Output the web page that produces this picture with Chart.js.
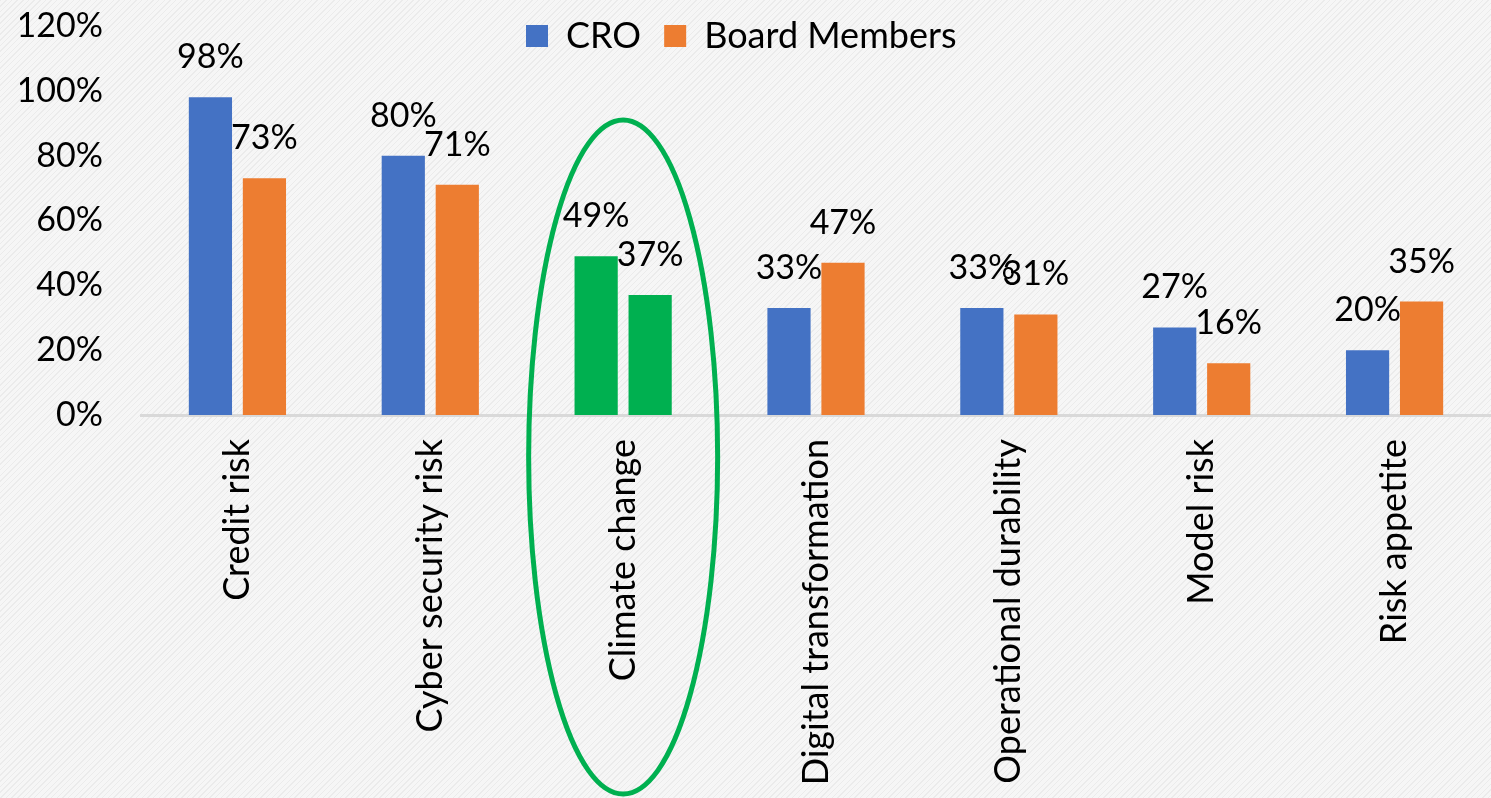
<!DOCTYPE html>
<html><head><meta charset="utf-8">
<script src="https://cdn.jsdelivr.net/npm/chart.js@4.4.1/dist/chart.umd.min.js"></script>
<style>
html,body{margin:0;padding:0;width:1491px;height:798px;overflow:hidden;}
body{background-color:#f6f6f6;background-image:repeating-linear-gradient(135deg,#ebebeb 0 1px,transparent 1px 4px);}
#wrap{position:relative;width:1491px;height:798px;}
</style></head><body><div id="wrap"><canvas id="c"></canvas></div>
<script>
const categories = ['Credit risk','Cyber security risk','Climate change','Digital transformation','Operational durability','Model risk','Risk appetite'];
const croValues = [98,80,49,33,33,27,20];
const boardValues = [73,71,37,47,31,16,35];
const seriesNames = ['CRO','Board Members'];
const highlightCategory = 'Climate change';

const BLUE = '#4472c4', ORANGE = '#ed7d31', GREEN = '#00b050';
const FONT = 'Lato';
const FS = 34;      // numbers
const FS_TXT = 36;  // words

const colorFor = (base) => (ctx) => (ctx.dataIndex !== undefined && categories[ctx.dataIndex] === highlightCategory) ? GREEN : base;

const LEG_PAD = 23;
const legendFix = {
  id: 'legendFix',
  afterInit(chart) {
    const lg = chart.legend;
    if (!lg) return;
    const orig = lg.fit.bind(lg);
    lg.fit = function () { orig(); this.height = 26; };
  },
  afterLayout(chart) {
    const lg = chart.legend;
    if (!lg || !lg.lineWidths) return;
    const lw = lg.lineWidths[0];
    lg.top = 18 - LEG_PAD;
    lg.bottom = 80;
    lg.left = 0;
    lg.right = 2 * 526 - LEG_PAD + lw;
  }
};

const dataLabels = {
  id: 'dataLabels',
  afterDatasetsDraw(chart) {
    const ctx = chart.ctx;
    ctx.save();
    ctx.font = FS + 'px ' + FONT;
    ctx.fillStyle = '#000';
    ctx.textAlign = 'center';
    ctx.textBaseline = 'middle';
    chart.data.datasets.forEach((ds, i) => {
      const meta = chart.getDatasetMeta(i);
      meta.data.forEach((bar, j) => {
        ctx.fillText(ds.data[j] + '%', bar.x, bar.y - 40);
      });
    });
    ctx.restore();
  }
};

const ellipse = {
  id: 'ellipse',
  afterDatasetsDraw(chart) {
    const ctx = chart.ctx;
    const xs = chart.scales.x, ys = chart.scales.y;
    const idx = categories.indexOf(highlightCategory);
    const cx = xs.getPixelForValue(idx);
    const top = ys.getPixelForValue(91);
    const bottom = chart.height - 4;
    const cy = (top + bottom) / 2, ry = (bottom - top) / 2;
    const rx = xs.getPixelForValue(idx + 0.49) - cx;
    ctx.save();
    ctx.strokeStyle = GREEN;
    ctx.lineWidth = 5;
    ctx.beginPath();
    ctx.ellipse(cx, cy, rx, ry, 0, 0, Math.PI * 2);
    ctx.stroke();
    ctx.restore();
  }
};

new Chart(document.getElementById('c'), {
  type: 'bar',
  data: {
    labels: categories,
    datasets: [
      { label: seriesNames[0], data: croValues, backgroundColor: colorFor(BLUE), borderWidth: 0 },
      { label: seriesNames[1], data: boardValues, backgroundColor: colorFor(ORANGE), borderWidth: 0 }
    ]
  },
  options: {
    responsive: true,
    maintainAspectRatio: false,
    animation: false,
    categoryPercentage: 0.56,
    barPercentage: 0.8,
    layout: { padding: { left: 20, right: 0, top: 0, bottom: 0 } },
    plugins: {
      legend: {
        position: 'top',
        labels: { font: { family: FONT, size: FS_TXT }, color: '#000', boxWidth: 22, boxHeight: 22, padding: LEG_PAD }
      },
      tooltip: { enabled: false }
    },
    scales: {
      x: {
        grid: { display: false, drawTicks: false },
        border: { display: true, color: '#d9d9d9', width: 3 },
        ticks: { font: { family: FONT, size: FS_TXT }, color: '#000', minRotation: 90, maxRotation: 90, padding: 24, autoSkip: false },
        afterFit(s) { s.height = 383; s.paddingLeft = 0; s.paddingRight = 0; }
      },
      y: {
        min: 0, max: 120,
        grid: { display: false, drawTicks: false },
        border: { display: false },
        ticks: { stepSize: 20, font: { family: FONT, size: FS }, color: '#000', padding: 38, callback: v => v + '%' },
        afterFit(s) { s.width = 121; s.paddingTop = 21; s.paddingBottom = 21; }
      }
    }
  },
  plugins: [legendFix, dataLabels, ellipse]
});
</script></body></html>
